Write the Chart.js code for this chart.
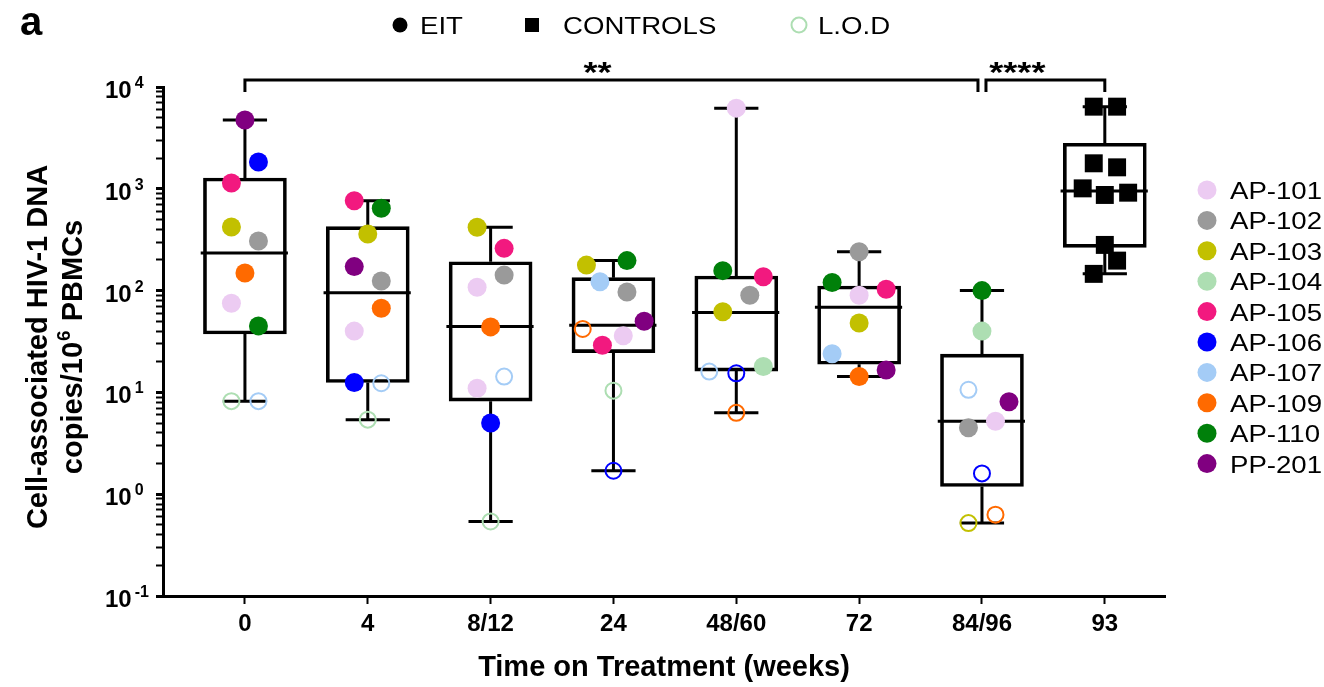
<!doctype html>
<html lang="en">
  <head>
    <meta charset="utf-8">
    <title>Cell-associated HIV-1 DNA over time on treatment</title>
    <style>
      * {
        margin: 0;
        padding: 0;
      }
      body {
        background: #fff;
      }
      .chartBox {
        position: relative;
        width: 1324px;
        height: 687px;
      }
    </style>
  </head>
  <body>
    <div class="chartBox">
      <canvas id="myChart"></canvas>
    </div>
    <script src="https://cdn.jsdelivr.net/npm/chart.js/dist/chart.umd.min.js"></script>
    <script>
// categories (weeks on treatment); the last one is the control group
const timepoints = ['0', '4', '8/12', '24', '48/60', '72', '84/96', '93'];
const patients = ['AP-101', 'AP-102', 'AP-103', 'AP-104', 'AP-105', 'AP-106', 'AP-107', 'AP-109', 'AP-110', 'PP-201'];

// y axis decades and their exponents
const yDecades = [0.1, 1, 10, 100, 1000, 10000];
const yExponents = ['-1', '0', '1', '2', '3', '4'];

// HIV-1 DNA copies / 10^6 PBMCs per EIT timepoint (null = no sample)
const ap101 = [75, 40, [108, 11], 36, 6200, 90, 5.2];
const ap102 = [307, 124, 142, 97, 90, 241, 4.5];
const ap103 = [422, 360, 419, 178, 62, 48, 0.52];
const ap104 = [8.2, 5.4, 0.54, 10.4, 18, null, 40];
const ap105 = [1140, 764, 260, 29, 137, 103, null];
const ap106 = [1830, 12.5, 5.0, 1.7, 15.4, null, 1.6];
const ap107 = [8.2, 12.3, 14.3, 122, 16, 24, 10.6];
const ap109 = [149, 67, 44, 42, 6.3, 14.3, 0.63];
const ap110 = [45, 644, null, 197, 157, 120, 100];
const pp201 = [4740, 172, null, 50, null, 16.6, 8.1];

// horizontal spread of each point inside its timepoint (category units)
const ap101X = [-0.11, -0.11, [-0.11, -0.11], 0.08, 0, 0, 0.11];
const ap102X = [0.11, 0.11, 0.11, 0.11, 0.11, 0, -0.11];
const ap103X = [-0.11, 0, -0.11, -0.22, -0.11, 0, -0.11];
const ap104X = [-0.11, 0, 0, 0, 0.22, null, 0];
const ap105X = [-0.11, -0.11, 0.11, -0.09, 0.22, 0.22, null];
const ap106X = [0.11, -0.11, 0, 0, 0, null, 0];
const ap107X = [0.11, 0.11, 0.11, -0.11, -0.22, -0.22, -0.11];
const ap109X = [0, 0.11, 0, -0.25, 0, 0, 0.11];
const ap110X = [0.11, 0.11, null, 0.11, -0.11, -0.22, 0];
const pp201X = [0, -0.11, null, 0.25, null, 0.22, 0.22];

// values at the limit of detection (open symbols)
const lodPoints = ['AP-103@84/96', 'AP-104@0', 'AP-104@4', 'AP-104@8/12', 'AP-104@24',
  'AP-106@24', 'AP-106@48/60', 'AP-106@84/96', 'AP-107@0', 'AP-107@4', 'AP-107@8/12',
  'AP-107@48/60', 'AP-107@84/96', 'AP-109@24', 'AP-109@48/60', 'AP-109@84/96'];

// controls at week 93
const controls = [6410, 6410, 1780, 1625, 1010, 870, 916, 281, 197, 146];
const controlsX = [-0.09, 0.1, -0.09, 0.1, -0.18, 0, 0.19, 0, 0.1, -0.09];

// box plot summary per timepoint
const whiskLo = [8.2, 5.4, 0.54, 1.7, 6.3, 14.3, 0.52, 146];
const q1 = [37.5, 12.5, 8.2, 24.6, 16.2, 18.9, 1.19, 266];
const median = [234, 95, 44.3, 45.6, 61, 68.5, 5.2, 951];
const q3 = [1277, 425, 192, 134, 139, 111, 23.8, 2800];
const whiskHi = [4740, 764, 419, 197, 6200, 241, 100, 6410];

// significance brackets
const sigFrom = [0, 6];
const sigTo = [6, 7];
const sigLabels = ['**', '****'];

const colors = ['#ECCBF2', '#9A9A9A', '#C2C000', '#ADDEB2', '#F2197F',
  '#0000FF', '#A4CCF6', '#FF6A00', '#00800A', '#800080'];
const FONT = "'Liberation Sans', Arial, sans-serif";

const eitSeries = [ap101, ap102, ap103, ap104, ap105, ap106, ap107, ap109, ap110, pp201];
const eitSpread = [ap101X, ap102X, ap103X, ap104X, ap105X, ap106X, ap107X, ap109X, ap110X, pp201X];

function patientPoints(p) {
  const pts = [];
  eitSeries[p].forEach((v, i) => {
    if (v === null) return;
    const vals = [].concat(v);
    const offs = [].concat(eitSpread[p][i]);
    vals.forEach((val, k) => pts.push({
      x: i + offs[k],
      y: val,
      lod: lodPoints.includes(patients[p] + '@' + timepoints[i])
    }));
  });
  return pts;
}

// whiskers, caps and medians as broken line segments
const whiskerData = [], capData = [], medianData = [];
timepoints.forEach((t, i) => {
  whiskerData.push({x: i, y: whiskLo[i]}, {x: i, y: q1[i]}, {x: i, y: null},
    {x: i, y: q3[i]}, {x: i, y: whiskHi[i]}, {x: i, y: null});
  capData.push({x: i - 0.18, y: whiskLo[i]}, {x: i + 0.18, y: whiskLo[i]}, {x: i, y: null},
    {x: i - 0.18, y: whiskHi[i]}, {x: i + 0.18, y: whiskHi[i]}, {x: i, y: null});
  medianData.push({x: i - 0.36, y: median[i]}, {x: i + 0.35, y: median[i]}, {x: i, y: null});
});

const datasets = patients.map((name, p) => ({
  label: name,
  data: patientPoints(p),
  showLine: false,
  order: 0,
  pointRadius: ctx => ctx.raw && ctx.raw.lod ? 8 : 9.5,
  pointBackgroundColor: ctx => ctx.raw && ctx.raw.lod ? 'rgba(0,0,0,0)' : colors[p],
  pointBorderColor: colors[p],
  pointBorderWidth: ctx => ctx.raw && ctx.raw.lod ? 2 : 0
}));

datasets.push({
  label: 'CONTROLS',
  data: controls.map((v, k) => ({x: 7 + controlsX[k], y: v})),
  showLine: false,
  order: 0,
  pointStyle: 'rect',
  pointRadius: 12.7,
  pointBackgroundColor: '#000',
  pointBorderWidth: 0
});

const lineStyle = {
  type: 'line',
  borderColor: '#000',
  borderWidth: 3,
  pointRadius: 0,
  spanGaps: false,
  fill: false,
  order: 5,
  borderCapStyle: 'butt'
};
datasets.push(Object.assign({label: 'whiskers', data: whiskerData}, lineStyle));
datasets.push(Object.assign({label: 'caps', data: capData}, lineStyle));
datasets.push(Object.assign({label: 'medians', data: medianData}, lineStyle));

datasets.push({
  type: 'bar',
  label: 'boxes',
  data: timepoints.map((t, i) => ({x: i, y: [q1[i], q3[i]]})),
  backgroundColor: 'rgba(0,0,0,0)',
  borderColor: '#000',
  borderWidth: 3,
  borderSkipped: false,
  barThickness: 83,
  order: 10
});

function stretchText(ctx, text, x, y, sx) {
  ctx.save();
  ctx.translate(x, y);
  ctx.scale(sx, 1);
  ctx.fillText(text, 0, 0);
  ctx.restore();
}

const decorations = {
  id: 'decorations',
  afterDraw(chart) {
    const {ctx, scales: {x, y}} = chart;
    ctx.save();
    ctx.fillStyle = '#000';
    ctx.strokeStyle = '#000';
    ctx.textBaseline = 'alphabetic';
    ctx.textAlign = 'left';

    // panel letter
    ctx.font = 'bold 40px ' + FONT;
    ctx.fillText('a', 20, 35);

    // y tick labels 10^n
    yDecades.forEach((d, i) => {
      const py = y.getPixelForValue(d);
      ctx.font = 'bold 24px ' + FONT;
      ctx.fillText('10', 105, py + 11);
      const w = ctx.measureText('10').width;
      ctx.font = 'bold 16px ' + FONT;
      ctx.fillText(yExponents[i], 105 + w + 3, py + 1);
    });

    // y axis title, two lines with superscript
    ctx.save();
    ctx.translate(0, 347);
    ctx.rotate(-Math.PI / 2);
    ctx.textAlign = 'center';
    ctx.font = 'bold 29px ' + FONT;
    ctx.fillText('Cell-associated HIV-1 DNA', 0, 47);
    const partA = 'copies/10', partB = '6', partC = ' PBMCs';
    ctx.textAlign = 'left';
    ctx.font = 'bold 29px ' + FONT;
    const wa = ctx.measureText(partA).width, wc = ctx.measureText(partC).width;
    ctx.font = 'bold 19px ' + FONT;
    const wb = ctx.measureText(partB).width;
    let sx = -(wa + wb + wc + 2) / 2;
    ctx.font = 'bold 29px ' + FONT;
    ctx.fillText(partA, sx, 82);
    ctx.font = 'bold 19px ' + FONT;
    ctx.fillText(partB, sx + wa + 1, 70);
    ctx.font = 'bold 29px ' + FONT;
    ctx.fillText(partC, sx + wa + wb + 2, 82);
    ctx.restore();

    // significance brackets
    const top = y.getPixelForValue(10000) - 7;
    const drop = top + 12;
    ctx.lineWidth = 3;
    sigLabels.forEach((lab, k) => {
      const x0 = x.getPixelForValue(sigFrom[k]) + (k > 0 ? 4 : 0);
      const x1 = x.getPixelForValue(sigTo[k]) - (k === 0 ? 4 : 0);
      ctx.beginPath();
      ctx.moveTo(x0, drop);
      ctx.lineTo(x0, top);
      ctx.lineTo(x1, top);
      ctx.lineTo(x1, drop);
      ctx.stroke();
      ctx.font = 'bold 30px ' + FONT;
      ctx.textAlign = 'center';
      stretchText(ctx, lab, (x0 + x1) / 2 - ctx.measureText(lab).width * 0.6, top + 2, 1.2);
    });

    // top legend: symbol key
    ctx.textAlign = 'left';
    ctx.font = '24px ' + FONT;
    ctx.beginPath();
    ctx.arc(400, 25, 7.5, 0, Math.PI * 2);
    ctx.fill();
    stretchText(ctx, 'EIT', 420, 34, 1.15);
    ctx.fillRect(525, 18, 14, 14);
    stretchText(ctx, 'CONTROLS', 563, 34, 1.15);
    ctx.beginPath();
    ctx.strokeStyle = colors[3];
    ctx.lineWidth = 2;
    ctx.arc(799, 25, 7.5, 0, Math.PI * 2);
    ctx.stroke();
    stretchText(ctx, 'L.O.D', 818, 34, 1.15);

    // right legend: patients
    patients.forEach((name, p) => {
      const ly = 190 + p * 30.4;
      ctx.fillStyle = colors[p];
      ctx.beginPath();
      ctx.arc(1207, ly, 9.5, 0, Math.PI * 2);
      ctx.fill();
      ctx.fillStyle = '#000';
      ctx.font = '24px ' + FONT;
      stretchText(ctx, name, 1230, ly + 9, 1.15);
    });
    ctx.restore();
  }
};

// config
const config = {
  type: 'scatter',
  data: {datasets},
  options: {
    responsive: true,
    maintainAspectRatio: false,
    animation: false,
    events: [],
    layout: {
      padding: {top: 87, right: 159, left: 0, bottom: 0}
    },
    plugins: {
      legend: {display: false},
      tooltip: {enabled: false}
    },
    scales: {
      x: {
        type: 'linear',
        min: -0.667,
        max: 7.49,
        offset: false,
        afterFit: s => { s.height = 91; },
        afterBuildTicks: s => { s.ticks = timepoints.map((t, i) => ({value: i})); },
        border: {display: true, width: 3, color: '#000'},
        grid: {offset: false, drawOnChartArea: false, drawTicks: true, tickLength: 8, tickWidth: 2, tickColor: '#000'},
        ticks: {
          autoSkip: false,
          maxRotation: 0,
          padding: 6,
          color: '#000',
          font: {family: FONT, size: 24, weight: 'bold'},
          callback: v => timepoints[v]
        },
        title: {
          display: true,
          text: 'Time on Treatment (weeks)',
          color: '#000',
          font: {family: FONT, size: 29, weight: 'bold'},
          padding: {top: 0, bottom: 2}
        }
      },
      y: {
        type: 'logarithmic',
        min: 0.1,
        max: 10000,
        afterFit: s => { s.width = 163; },
        afterBuildTicks: s => {
          const ticks = [];
          yDecades.forEach((d, i) => {
            ticks.push({value: d, major: true});
            if (i < yDecades.length - 1) {
              for (let k = 2; k <= 9; k++) ticks.push({value: d * k, major: false});
            }
          });
          s.ticks = ticks;
        },
        border: {display: true, width: 3, color: '#000'},
        grid: {
          drawOnChartArea: false,
          drawTicks: true,
          tickLength: 7,
          tickColor: '#000',
          tickWidth: ctx => ctx.tick && ctx.tick.major ? 3 : 2
        },
        ticks: {
          autoSkip: false,
          callback: () => ''
        }
      }
    }
  },
  plugins: [decorations]
};

// render init block
const myChart = new Chart(
  document.getElementById('myChart'),
  config
);
    </script>
  </body>
</html>
